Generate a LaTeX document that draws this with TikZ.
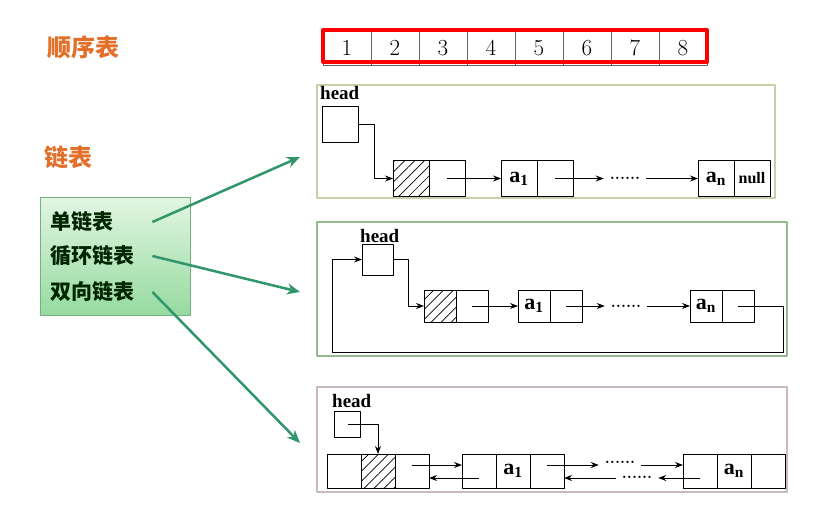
\documentclass[tikz,border=0pt]{standalone}
\usepackage{fontspec}
\newfontfamily\cjk{Noto Sans CJK SC}
\newfontfamily\cellfont{Liberation Serif}
\usetikzlibrary{positioning,patterns.meta,arrows.meta}
\definecolor{titleorange}{RGB}{226,112,42}
\definecolor{arrowgreen}{RGB}{50,150,108}
\definecolor{boxtop}{RGB}{226,246,226}
\definecolor{boxbottom}{RGB}{150,218,160}
\definecolor{boxline}{RGB}{118,176,128}
\definecolor{frameone}{RGB}{204,204,168}
\definecolor{frametwo}{RGB}{150,186,150}
\definecolor{framethree}{RGB}{200,186,190}
\newcommand{\elem}[1]{a\textsubscript{#1}}
\begin{document}
\begin{tikzpicture}[x=1pt,y=-1pt,line join=round,>={Stealth[length=8pt,width=6pt]},
	cell/.style={draw,line width=0.9pt,inner sep=0pt,outer sep=0pt,minimum width=#1,minimum height=#1,font=\cellfont\fontsize{22}{24}\bfseries},
	cell/.default=36pt,
	hatch/.style={pattern={Lines[angle=45,distance=7pt,line width=0.7pt]}},
	arrcell/.style={draw=black!60,line width=0.9pt,inner sep=0pt,outer sep=0pt,minimum width=48pt,minimum height=34pt,font=\fontsize{23}{26}\selectfont},
	link/.style={->,line width=1pt},
	dots/.style={inner sep=6pt,font=\fontsize{16}{18}\bfseries},
	headtxt/.style={anchor=base west,inner sep=0pt,font=\cellfont\fontsize{19}{21}\bfseries},
	title/.style={font={\cjk\fontsize{24}{26}\bfseries},text=titleorange},
	kind/.style={anchor=west,inner sep=0pt,text width=102pt,font={\cjk\fontsize{21}{24}\bfseries},text=black!85!green},
	garrow/.style={-{Stealth[length=13pt,width=11pt,inset=4pt]},draw=arrowgreen,line width=2.5pt}]
	\useasboundingbox (0,0) rectangle (821,506);
	% sequential list
	\node[title] (tseq) at (83,47) {顺序表};
	\foreach \i in {1,...,8}
	\node[arrcell] (q\i) at ({323+48*(\i-0.5)},48) {\i};
	\draw[red,line width=4pt] (323,30) rectangle (707,62);
	% linked lists
	\node[title] (tlink) at (68,157) {链表};
	\shade[top color=boxtop,bottom color=boxbottom,draw=boxline] (40,197) rectangle (190,315);
	\node[kind] (k1) at (50,222) {单链表};
	\node[kind] (k2) at (50,256) {循环链表};
	\node[kind] (k3) at (50,292) {双向链表};
	\coordinate (t1) at (300,157);
	\coordinate (t2) at (300,292);
	\coordinate (t3) at (300,443);
	\draw[garrow] (k1.east) -- (t1);
	\draw[garrow] (k2.east) -- (t2);
	\draw[garrow] (k3.east) -- (t3);
	% single
	\draw[frameone,line width=1.5pt] (317,85) rectangle (775,198);
	\node[headtxt] (h1) at (320,99) {head};
	\node[cell] (shead) at (340,124.5) {};
	\node[cell,hatch] (s0) at (411,178.5) {};
	\node[cell,right=0pt of s0] (s0n) {};
	\node[cell] (s1) at (519,178.5) {\elem{1}};
	\node[cell,right=0pt of s1] (s1n) {};
	\node[dots] (sd) at (625,178.5) {......};
	\node[cell] (sn) at (716,178.5) {\elem{n}};
	\node[cell,right=0pt of sn,font=\cellfont\fontsize{16}{18}\bfseries] (snn) {null};
	\draw[link] (shead.east) -- ++(16,0) |- (s0.west);
	\draw[link] (s0n.center) -- (s1.west);
	\draw[link] (s1n.center) -- (sd.west);
	\draw[link] (sd.east) -- (sn.west);
	% circular
	\draw[frametwo,line width=1.5pt] (317,222) rectangle (787,356);
	\node[headtxt] (h2) at (360,242) {head};
	\node[cell=31pt] (chead) at (377.5,259.5) {};
	\node[cell=32pt,hatch] (c0) at (440,306) {};
	\node[cell=32pt,right=0pt of c0] (c0n) {};
	\node[cell=32pt] (c1) at (534,306) {\elem{1}};
	\node[cell=32pt,right=0pt of c1] (c1n) {};
	\node[dots] (cd) at (626,306) {......};
	\node[cell=32pt] (cn) at (706,306) {\elem{n}};
	\node[cell=32pt,right=0pt of cn] (cnn) {};
	\coordinate (cret) at (783,352);
	\draw[link] (chead.east) -- ++(15,0) |- (c0.west);
	\draw[link] (c0n.center) -- (c1.west);
	\draw[link] (c1n.center) -- (cd.west);
	\draw[link] (cd.east) -- (cn.west);
	\draw[link] (cnn.center) -| (cret) -| ([xshift=-30pt]chead.west) -- (chead.west);
	% double
	\draw[framethree,line width=1.5pt] (317,387) rectangle (787,492);
	\node[headtxt] (h3) at (332,407) {head};
	\node[cell=26pt] (dhead) at (347.5,424.5) {};
	\node[cell=34pt] (d0a) at (344,471) {};
	\node[cell=34pt,hatch,right=0pt of d0a] (d0b) {};
	\node[cell=34pt,right=0pt of d0b] (d0c) {};
	\node[cell=34pt] (d1a) at (479,471) {};
	\node[cell=34pt,right=0pt of d1a] (d1b) {\elem{1}};
	\node[cell=34pt,right=0pt of d1b] (d1c) {};
	\node[dots] (ddf) at (620,462) {......};
	\node[dots] (ddb) at (637,477) {......};
	\node[cell=34pt] (dna) at (700,471) {};
	\node[cell=34pt,right=0pt of dna] (dnb) {\elem{n}};
	\node[cell=34pt,right=0pt of dnb] (dnc) {};
	\draw[link] (dhead.center) -| (d0b.north);
	\draw[link] ([yshift=6pt]d0c.center) -- ([yshift=6pt]d1a.west);
	\draw[link] ([yshift=-7pt]d1a.center) -- ([yshift=-7pt]d0c.east);
	\draw[link] ([yshift=6pt]d1c.center) -- (ddf.west |- 0,465);
	\draw[link] (ddf.east |- 0,465) -- ([yshift=6pt]dna.west);
	\draw[link] ([yshift=-7pt]dna.center) -- (ddb.east |- 0,478);
	\draw[link] (ddb.west |- 0,478) -- ([yshift=-7pt]d1c.east);
\end{tikzpicture}
\end{document}
